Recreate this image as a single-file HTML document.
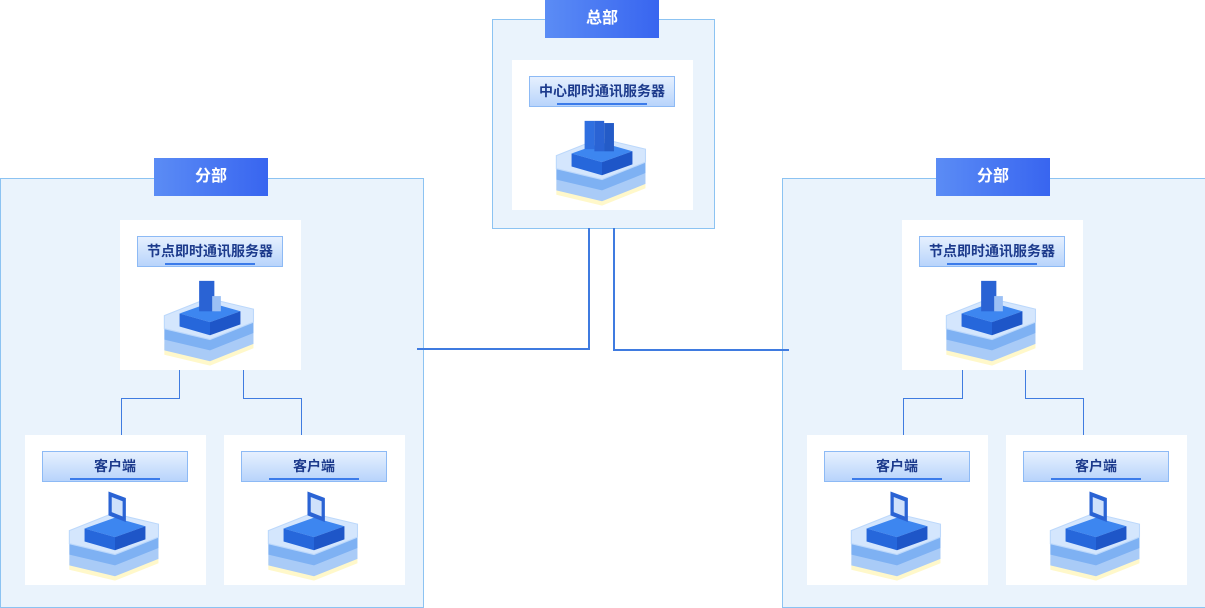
<!DOCTYPE html>
<html><head><meta charset="utf-8"><style>
*{margin:0;padding:0;box-sizing:border-box}
body{width:1205px;height:607px;background:#fff;position:relative;overflow:hidden;font-family:"Liberation Sans","Noto Sans CJK SC",sans-serif}
.box{position:absolute;background:#eaf3fc;border:1px solid #8cc3f2}
.tab{position:absolute;height:38px;width:114px;background:linear-gradient(90deg,#5b8cf5,#3865f0);color:#fff;font-weight:bold;font-size:16px;text-align:center;line-height:38px}
.card{position:absolute;width:181px;height:150px;background:#fff}
.lbl{position:absolute;left:17px;top:16px;width:146px;height:31px;border:1px solid #8dbaf5;background:linear-gradient(180deg,#e6f0fe,#b8d4fb);color:#1c3a8c;font-weight:bold;font-size:14px;text-align:center;line-height:29px}
.lbl:after{content:"";position:absolute;left:27px;right:27px;bottom:1px;height:2px;background:#3b7bea}
.ln{position:absolute;background:#3f7be0}
svg.ic{position:absolute;left:40px;top:52px}
</style></head><body>
<svg width="0" height="0" style="position:absolute"><defs>
<g id="base">
<path d="M4,66 L44,50 L86,60 L86,70 L46,86 L4,76Z" fill="#fff7c4" opacity=".9"/>
<path d="M4,62 L44,46 L86,56 L86,66 L46,82 L4,72Z" fill="#a9cbf7"/>
<path d="M4,52 L44,36 L86,46 L86,56 L46,72 L4,62Z" fill="#7eb1f3"/>
<path d="M4,40 L44,24 L86,34 L86,46 L46,62 L4,52Z" fill="#d4e6fd" stroke="#bcd8fb"/>
<path d="M18,38 L46,28 L74,36 L46,46Z" fill="#3d86f0"/>
<path d="M18,38 L46,46 L46,58 L18,50Z" fill="#2667db"/>
<path d="M46,46 L74,36 L74,48 L46,58Z" fill="#1e56c8"/>
</g></defs></svg>

<div class="box" style="left:492px;top:19px;width:223px;height:210px"></div>
<div class="tab" style="left:545px;top:0">总部</div>
<div class="card" style="left:512px;top:60px"><div class="lbl">中心即时通讯服务器</div>
<svg class="ic" width="100" height="96" viewBox="0 0 92 88"><use href="#base"/><rect x="30" y="8" width="9" height="26" fill="#2f6fe0"/><rect x="39" y="8" width="9" height="28" fill="#2a63d4"/><rect x="48" y="10" width="9" height="26" fill="#245bc7"/></svg></div>

<div class="box" style="left:0;top:178px;width:424px;height:430px"></div>
<div class="tab" style="left:154px;top:158px">分部</div>
<div class="box" style="left:782px;top:178px;width:424px;height:430px"></div>
<div class="tab" style="left:936px;top:158px">分部</div>

<div class="ln" style="left:588px;top:228px;width:2px;height:122px"></div>
<div class="ln" style="left:417px;top:348px;width:173px;height:2px"></div>
<div class="ln" style="left:613px;top:228px;width:2px;height:123px"></div>
<div class="ln" style="left:613px;top:349px;width:176px;height:2px"></div>

<div class="ln" style="left:179px;top:370px;width:1px;height:29px"></div>
<div class="ln" style="left:121px;top:398px;width:59px;height:1px"></div>
<div class="ln" style="left:121px;top:398px;width:1px;height:37px"></div>
<div class="ln" style="left:243px;top:370px;width:1px;height:29px"></div>
<div class="ln" style="left:243px;top:398px;width:59px;height:1px"></div>
<div class="ln" style="left:301px;top:398px;width:1px;height:37px"></div>

<div class="ln" style="left:962px;top:370px;width:1px;height:29px"></div>
<div class="ln" style="left:903px;top:398px;width:60px;height:1px"></div>
<div class="ln" style="left:903px;top:398px;width:1px;height:37px"></div>
<div class="ln" style="left:1025px;top:370px;width:1px;height:29px"></div>
<div class="ln" style="left:1025px;top:398px;width:59px;height:1px"></div>
<div class="ln" style="left:1083px;top:398px;width:1px;height:37px"></div>

<div class="card" style="left:120px;top:220px"><div class="lbl">节点即时通讯服务器</div>
<svg class="ic" width="100" height="96" viewBox="0 0 92 88"><use href="#base"/><rect x="36" y="8" width="14" height="28" fill="#2a63d4"/><rect x="48" y="22" width="8" height="14" fill="#9cc0f5"/></svg></div>
<div class="card" style="left:902px;top:220px"><div class="lbl">节点即时通讯服务器</div>
<svg class="ic" width="100" height="96" viewBox="0 0 92 88"><use href="#base"/><rect x="36" y="8" width="14" height="28" fill="#2a63d4"/><rect x="48" y="22" width="8" height="14" fill="#9cc0f5"/></svg></div>

<div class="card" style="left:25px;top:435px"><div class="lbl">客户端</div>
<svg class="ic" width="100" height="96" viewBox="0 0 92 88"><use href="#base"/><path d="M40,4 L56,10 L56,32 L40,26Z" fill="#2a63d4"/><path d="M43,9 L53,13 L53,27 L43,23Z" fill="#cfe1fb"/></svg></div>
<div class="card" style="left:224px;top:435px"><div class="lbl">客户端</div>
<svg class="ic" width="100" height="96" viewBox="0 0 92 88"><use href="#base"/><path d="M40,4 L56,10 L56,32 L40,26Z" fill="#2a63d4"/><path d="M43,9 L53,13 L53,27 L43,23Z" fill="#cfe1fb"/></svg></div>
<div class="card" style="left:807px;top:435px"><div class="lbl">客户端</div>
<svg class="ic" width="100" height="96" viewBox="0 0 92 88"><use href="#base"/><path d="M40,4 L56,10 L56,32 L40,26Z" fill="#2a63d4"/><path d="M43,9 L53,13 L53,27 L43,23Z" fill="#cfe1fb"/></svg></div>
<div class="card" style="left:1006px;top:435px"><div class="lbl">客户端</div>
<svg class="ic" width="100" height="96" viewBox="0 0 92 88"><use href="#base"/><path d="M40,4 L56,10 L56,32 L40,26Z" fill="#2a63d4"/><path d="M43,9 L53,13 L53,27 L43,23Z" fill="#cfe1fb"/></svg></div>
</body></html>
